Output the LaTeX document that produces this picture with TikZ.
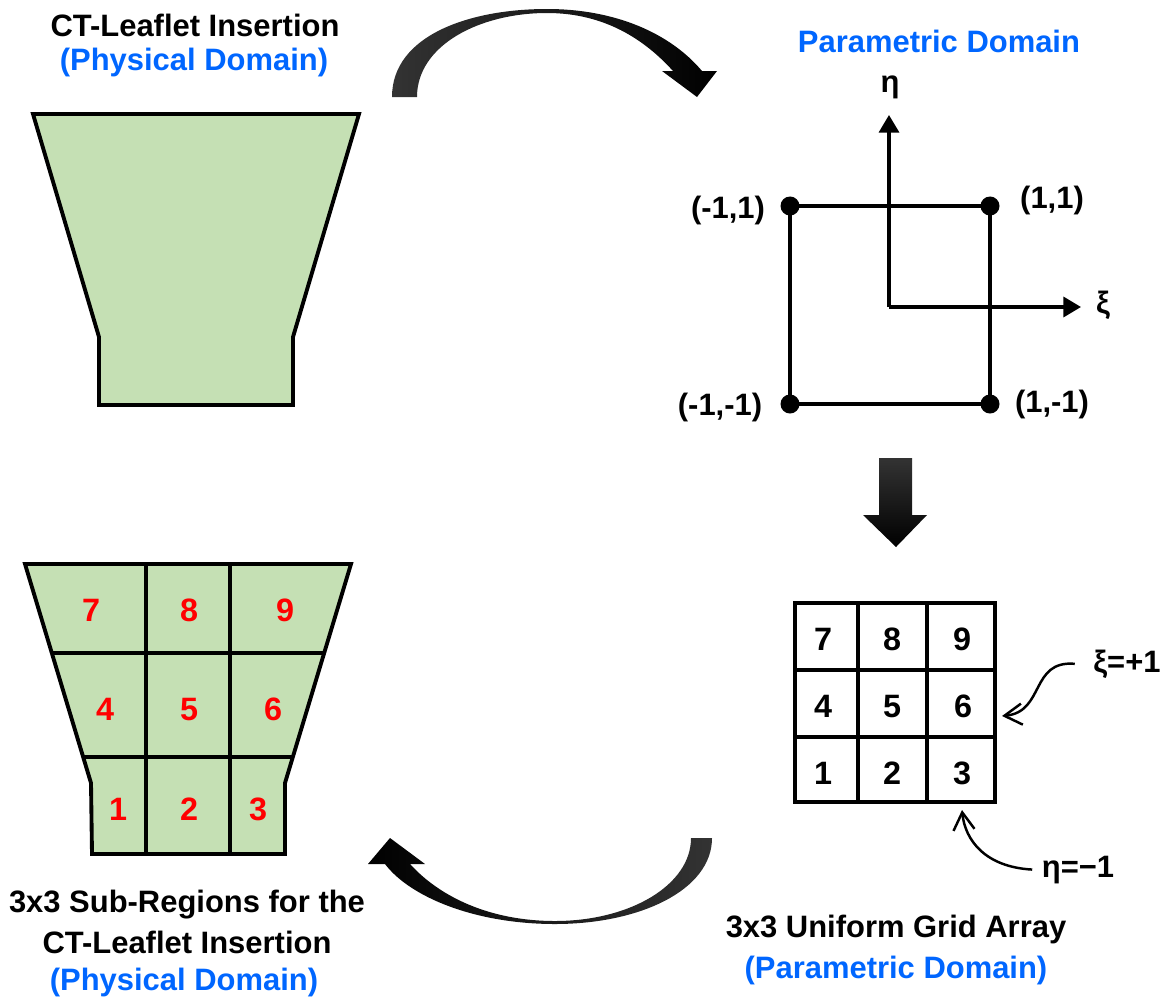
\documentclass[tikz,border=0pt]{standalone}
\usepackage{fontspec}
\setmainfont{Liberation Sans}
\usetikzlibrary{arrows.meta}
\definecolor{domainblue}{HTML}{0066FF}
\definecolor{leafgreen}{HTML}{C5E0B4}
\definecolor{regionred}{HTML}{FF0000}

\begin{document}
\begin{tikzpicture}[
  x=0.01cm, y=-0.01cm,
  line width=0.95pt,
  every node/.style={font=\fontsize{8.8}{10}\selectfont\bfseries, inner sep=0pt},
  caption/.style={anchor=base},
  bluecap/.style={anchor=base, text=domainblue},
  region/.style={anchor=base, text=regionred, font=\fontsize{9.2}{10}\selectfont\bfseries},
  cell/.style={anchor=base, font=\fontsize{9.2}{10}\selectfont\bfseries},
  leaflet/.style={draw=black, fill=leafgreen, line width=1.1pt},
  corner/.style={circle, fill=black, minimum size=0.19cm},
  axis/.style={-{Triangle[length=5pt,width=5.7pt]}, line width=0.9pt},
  callout/.style={-{Straight Barb[length=5pt,width=6pt]}, line width=0.7pt}
]
  \useasboundingbox (0,0) rectangle (1176,1003);

  % physical domain
  \node[caption] (physT) at (195,37) {CT-Leaflet Insertion};
  \node[bluecap] (physS) at (194,70) {(Physical Domain)};
  \draw[leaflet] (33,114) -- (359,114) -- (293,337) -- (293,405) -- (99,405) -- (99,337) -- cycle;

  % parametric domain
  \node[bluecap] (paraT) at (939,52) {Parametric Domain};
  \node[caption] (etaT) at (890,92) {η};
  \node[caption] (xiT) at (1103,313) {ξ};
  \coordinate (o) at (889,307);
  \coordinate (etaTip) at (889,115);
  \coordinate (xiTip) at (1081,307);
  \node[corner] (cmm) at (790,404) {};
  \node[corner] (cpm) at (990,404) {};
  \node[corner] (cpp) at (990,206) {};
  \node[corner] (cmp) at (790,206) {};
  \draw (cmm.center) -- (cpm.center) -- (cpp.center) -- (cmp.center) -- cycle;
  \draw[axis] (o) -- (etaTip);
  \draw[axis] (o) -- (xiTip);
  \node[caption] (lmp) at (728,218) {(-1,1)};
  \node[caption] (lpp) at (1052,208) {(1,1)};
  \node[caption] (lmm) at (720,415) {(-1,-1)};
  \node[caption] (lpm) at (1052,412) {(1,-1)};

  % block arrows
  \shade[left color=black!80, right color=black] (392,97) -- (417,97)
    .. controls (417,45) and (480,13) .. (547,13)
    .. controls (605,13) and (645,40) .. (673,71)
    -- (662,71) -- (697,97) -- (717,71) -- (702,71)
    .. controls (670,33) and (615,9) .. (547,9)
    .. controls (470,9) and (392,35) .. (392,97) -- cycle;
  \shade[top color=black!80, bottom color=black] (879,458) -- (912,458) -- (912,515) -- (927,515)
    -- (896,547) -- (863,515) -- (879,515) -- cycle;
  \shade[left color=black, right color=black!80] (385,864)
    .. controls (410,897) and (475,924) .. (555,924)
    .. controls (640,924) and (712,890) .. (712,838)
    -- (691,838)
    .. controls (691,885) and (630,921) .. (555,921)
    .. controls (490,921) and (440,897) .. (410,864)
    -- (425,864) -- (390,838) -- (368,864) -- cycle;

  % uniform grid
  \draw (795,603) rectangle (995,802);
  \foreach \x in {858,927} \draw (\x,603) -- (\x,802);
  \foreach \y in {670,737} \draw (795,\y) -- (995,\y);
  \foreach \n/\x/\y in {7/823/650, 8/892/650, 9/962/650, 4/823/717, 5/892/717, 6/963/717, 1/823/784, 2/892/784, 3/962/784}
    \node[cell] (g\n) at (\x,\y) {\n};
  \node[caption] (xiOne) at (1127,672) {ξ=+1};
  \node[caption] (etaOne) at (1078,877) {η=−1};
  \coordinate (xiHit) at (1002,716);
  \coordinate (etaHit) at (962,810);
  \draw[callout] ([xshift=-0.17cm]xiOne.west) .. controls (1030,660) and (1045,712) .. (xiHit);
  \draw[callout] ([xshift=-0.08cm]etaOne.west) .. controls (985,867) and (965,840) .. (etaHit);
  \node[caption] (gridT) at (896,937) {3x3 Uniform Grid Array};
  \node[bluecap] (gridS) at (896,978) {(Parametric Domain)};

  % sub-regions
  \draw[leaflet] (25,564) -- (351,564) -- (285,783) -- (285,854) -- (92,854) -- (91,783) -- cycle;
  \draw (53,653) -- (323,653);
  \draw (82,757) -- (293,757);
  \draw (146,564) -- (146,854);
  \draw (230,562) -- (230,852);
  \foreach \n/\x/\y in {7/91/621, 8/189/621, 9/285/621, 4/105/720, 5/189/720, 6/273/720, 1/118/820, 2/189/820, 3/258/820}
    \node[region] (r\n) at (\x,\y) {\n};
  \node[caption] (subT) at (187,912) {3x3 Sub-Regions for the};
  \node[caption] (subM) at (187,953) {CT-Leaflet Insertion};
  \node[bluecap] (subS) at (184,990) {(Physical Domain)};
\end{tikzpicture}
\end{document}
